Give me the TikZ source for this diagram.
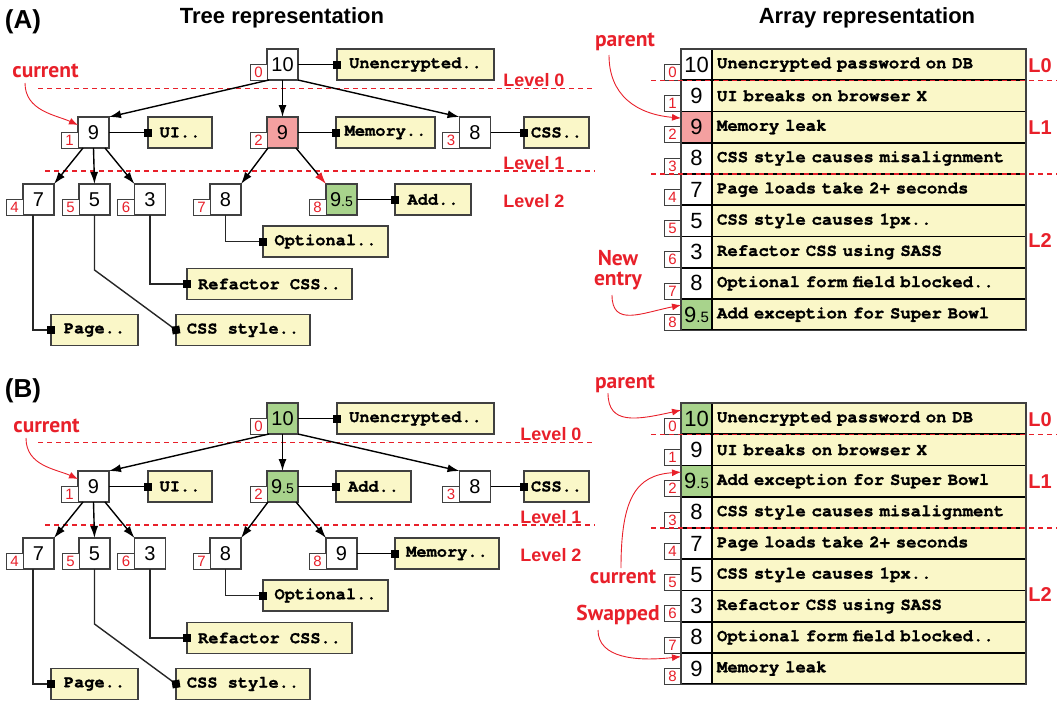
\documentclass[tikz,border=0pt]{standalone}
\usepackage{fontspec}
\setmainfont{Liberation Sans}
\newfontfamily\codefont{TeX Gyre Cursor}[BoldFeatures={FakeBold=1.2}]
\newfontfamily\notefont{PT Sans}
\usetikzlibrary{arrows.meta,calc}

\definecolor{notered}{HTML}{E8202A}
\definecolor{hotfill}{HTML}{F4A0A0}
\definecolor{newfill}{HTML}{A8D38C}
\definecolor{descfill}{HTML}{FAF7C8}
\definecolor{edgegray}{HTML}{404040}
\definecolor{leafgray}{HTML}{262626}

\newcommand\fs[1]{\fontsize{#1}{#1}\selectfont}
\newcommand\ninefive{9{\fs{14}.5}}
\newcommand\ninefivebig{9{\fs{15}.5}}

% tree key box with its index tag: name, position, index, fill, key
\newcommand\treekey[5]{%
  \node[keynode, fill=#4] (#1) at (#2) {#5};
  \node[idxbox] (#1-i) at (#1.south west) {#3};}

% array slot: name, y, index, fill, key, description
\newcommand\slot[6]{%
  \node[cellkey, fill=#4] (#1) at (696.5,#2) {#5};
  \node[celltext] (#1-d) at (712,#2) {#6};
  \node[idxbox] (#1-i) at (#1.south west) {#3};}

\begin{document}
\begin{tikzpicture}[x=1pt,y=-1pt,
  heading/.style={font=\bfseries\fs{22}, inner sep=0pt, anchor=base},
  panel/.style={font=\bfseries\fs{26}, inner sep=0pt, anchor=base},
  keynode/.style={draw=edgegray, line width=1.2pt, fill=white, minimum width=31pt,
    minimum height=31pt, inner sep=0pt, outer sep=0pt, font=\fs{20}},
  idxbox/.style={draw=edgegray, line width=1pt, fill=white, minimum width=17pt,
    minimum height=16pt, inner sep=0pt, outer sep=0pt, text=notered, font=\fs{15},
    anchor=south east},
  descbox/.style={draw=edgegray, line width=1.2pt, fill=descfill, minimum height=31pt,
    inner sep=0pt, outer sep=0pt, font=\codefont\bfseries\fs{17}, anchor=west},
  cellkey/.style={draw=black, line width=1.6pt, fill=white, minimum width=31pt,
    minimum height=31.25pt, inner sep=0pt, outer sep=0pt, font=\fs{22}},
  celltext/.style={draw=black, line width=1.6pt, fill=descfill, text width=304pt,
    align=left, inner xsep=5pt, inner ysep=0pt, minimum height=31.25pt, outer sep=0pt,
    font=\codefont\bfseries\fs{17.3}, anchor=west},
  treeedge/.style={line width=1.4pt, -{Latex[length=12pt,width=8pt]}},
  hotedge/.style={line width=1.4pt, -{Latex[length=12pt,width=8pt,color=notered]}},
  link/.style={line width=1.6pt, -{Square[length=8pt,width=8pt]}, shorten >=-4pt},
  leaflink/.style={line width=1.4pt, draw=leafgray,
    -{Square[length=8pt,width=8pt,color=black]}, shorten >=-4pt},
  diamondlink/.style={line width=1.4pt, draw=leafgray,
    -{Diamond[length=11pt,width=11pt,color=black]}, shorten >=-5.5pt},
  levelline/.style={notered, line width=1.1pt, dash pattern=on 5pt off 4pt},
  levellabel/.style={text=notered, font=\bfseries\fs{18}, inner sep=0pt, anchor=base},
  rowlabel/.style={text=notered, font=\bfseries\fs{20}, inner sep=0pt, anchor=base},
  callout/.style={text=notered, font=\notefont\bfseries\fs{21.5}, inner sep=0pt},
  calloutarrow/.style={notered, line width=0.9pt, -{Latex[length=9pt,width=7pt]}}
]
\useasboundingbox (0,0) rectangle (1063,702);

% ---------- headings ----------
\node[heading] (headTree) at (282,23) {Tree representation};
\node[heading] (headArray) at (867,23) {Array representation};
\node[panel] (panelA) at (23,28) {(A)};
\node[panel] (panelB) at (23,397) {(B)};

% ================= panel A : tree =================
\draw[levelline] (38,88.7) -- (595,88.7);
\draw[levelline] (45,171) -- (595,171);
\node[levellabel] (lvA0) at (534,86) {Level 0};
\node[levellabel] (lvA1) at (534,169) {Level 1};
\node[levellabel] (lvA2) at (534,207) {Level 2};

\treekey{a0}{282.5,64.5}{0}{white}{10}
\treekey{a1}{93.5,132.5}{1}{white}{9}
\treekey{a2}{282.5,132.5}{2}{hotfill}{9}
\treekey{a3}{475,132.5}{3}{white}{8}
\treekey{a4}{38.5,199.5}{4}{white}{7}
\treekey{a5}{94.5,199.5}{5}{white}{5}
\treekey{a6}{150,199.5}{6}{white}{3}
\treekey{a7}{225.5,199.5}{7}{white}{8}
\treekey{a8}{341.5,199.5}{8}{newfill}{\ninefive}

\node[descbox, minimum width=157pt] (ad0) at (337,64.5) {Unencrypted..};
\node[descbox, minimum width=64pt] (ad1) at (148,132.5) {UI..};
\node[descbox, minimum width=99pt] (ad2) at (336,132.5) {Memory..};
\node[descbox, minimum width=65pt] (ad3) at (524,132.5) {CSS..};
\node[descbox, minimum width=76pt] (ad8) at (395,199.5) {Add..};
\node[descbox, minimum width=125pt] (ad7) at (263,241.5) {Optional..};
\node[descbox, minimum width=165pt] (ad6) at (187,284) {Refactor CSS..};
\node[descbox, minimum width=87pt] (ad4) at (51,330) {Page..};
\node[descbox, minimum width=134pt] (ad5) at (176,330) {CSS style..};

\draw[treeedge] ([xshift=2pt]a0.south west) -- (a1.north east);
\draw[treeedge] (a0.south) -- (a2.north);
\draw[treeedge] (a0.south east) -- (a3.north west);
\draw[treeedge] ([xshift=5pt]a1.south west) -- (a4.north east);
\draw[treeedge] (a1.south) -- (a5.north);
\draw[treeedge] ([xshift=-4pt]a1.south east) -- (a6.north west);
\draw[treeedge] ([xshift=1pt]a2.south west) -- (a7.north east);
\draw[hotedge] ([xshift=-2pt]a2.south east) -- (a8.north west);

\draw[link] (a0.east) -- (ad0.west);
\draw[link] (a1.east) -- (ad1.west);
\draw[link] (a2.east) -- (ad2.west);
\draw[link] (a3.east) -- (ad3.west);
\draw[link] (a8.east) -- (ad8.west);
\draw[leaflink] (a7.south) |- (ad7.west);
\draw[leaflink] (a6.south) |- (ad6.west);
\draw[leaflink] ([xshift=-5.5pt]a4.south) |- (ad4.west);
\draw[diamondlink] (a5.south) -- ++(0,55) -- (ad5.west);

\node[callout, anchor=base] (curA) at (45.5,77) {current};
\draw[calloutarrow] ($(curA.base)+(-20.5,6)$) .. controls +(0,28) and +(-22,-10) .. ([yshift=7.5pt]a1.west);

% ================= panel A : array =================
\slot{ra0}{64.625}{0}{white}{10}{Unencrypted password on DB}
\slot{ra1}{95.875}{1}{white}{9}{UI breaks on browser X}
\slot{ra2}{127.125}{2}{hotfill}{9}{Memory leak}
\slot{ra3}{158.375}{3}{white}{8}{CSS style causes misalignment}
\slot{ra4}{189.625}{4}{white}{7}{Page loads take 2+ seconds}
\slot{ra5}{220.875}{5}{white}{5}{CSS style causes 1px..}
\slot{ra6}{252.125}{6}{white}{3}{Refactor CSS using SASS}
\slot{ra7}{283.375}{7}{white}{8}{Optional form field blocked..}
\slot{ra8}{314.625}{8}{newfill}{\ninefivebig}{Add exception for Super Bowl}
\draw[edgegray, line width=1.2pt] (ra0.north west) rectangle (ra8-d.south east);

\draw[levelline] (651,80.25) -- (1057,80.25);
\draw[levelline] (651,174) -- (1057,174);
\node[rowlabel] (lA0) at (1040,72) {L0};
\node[rowlabel] (lA1) at (1040,134) {L1};
\node[rowlabel] (lA2) at (1040,247) {L2};

\node[callout, anchor=base] (parA) at (625,46) {parent};
\draw[calloutarrow] ($(parA.base)+(-16,9)$) .. controls +(0,40) and +(-45,-4) .. ([yshift=9pt]ra2.west);
\node[callout, align=center] (newA) at (618,270) {New\\[-2pt]entry};
\draw[calloutarrow] ($(newA.center)+(-6,25)$) .. controls +(0,32) and +(-40,8) .. ([yshift=9.5pt]ra8.west);

% ================= panel B : tree =================
\draw[levelline] (38,442.7) -- (595,442.7);
\draw[levelline] (45,525) -- (595,525);
\node[levellabel] (lvB0) at (551,440) {Level 0};
\node[levellabel] (lvB1) at (551,523) {Level 1};
\node[levellabel] (lvB2) at (551,561) {Level 2};

\treekey{b0}{282.5,418.5}{0}{newfill}{10}
\treekey{b1}{93.5,486.5}{1}{white}{9}
\treekey{b2}{282.5,486.5}{2}{newfill}{\ninefive}
\treekey{b3}{475,486.5}{3}{white}{8}
\treekey{b4}{38.5,553.5}{4}{white}{7}
\treekey{b5}{94.5,553.5}{5}{white}{5}
\treekey{b6}{150,553.5}{6}{white}{3}
\treekey{b7}{225.5,553.5}{7}{white}{8}
\treekey{b8}{341.5,553.5}{8}{white}{9}

\node[descbox, minimum width=157pt] (bd0) at (337,418.5) {Unencrypted..};
\node[descbox, minimum width=64pt] (bd1) at (148,486.5) {UI..};
\node[descbox, minimum width=75pt] (bd2) at (336,486.5) {Add..};
\node[descbox, minimum width=65pt] (bd3) at (524,486.5) {CSS..};
\node[descbox, minimum width=104pt] (bd8) at (395,553.5) {Memory..};
\node[descbox, minimum width=125pt] (bd7) at (263,595.5) {Optional..};
\node[descbox, minimum width=165pt] (bd6) at (187,638) {Refactor CSS..};
\node[descbox, minimum width=87pt] (bd4) at (51,684) {Page..};
\node[descbox, minimum width=134pt] (bd5) at (176,684) {CSS style..};

\draw[treeedge] ([xshift=2pt]b0.south west) -- (b1.north east);
\draw[treeedge] (b0.south) -- (b2.north);
\draw[treeedge] (b0.south east) -- (b3.north west);
\draw[treeedge] ([xshift=5pt]b1.south west) -- (b4.north east);
\draw[treeedge] (b1.south) -- (b5.north);
\draw[treeedge] ([xshift=-4pt]b1.south east) -- (b6.north west);
\draw[treeedge] ([xshift=1pt]b2.south west) -- (b7.north east);
\draw[treeedge] ([xshift=-2pt]b2.south east) -- (b8.north west);

\draw[link] (b0.east) -- (bd0.west);
\draw[link] (b1.east) -- (bd1.west);
\draw[link] (b2.east) -- (bd2.west);
\draw[link] (b3.east) -- (bd3.west);
\draw[link] (b8.east) -- (bd8.west);
\draw[leaflink] (b7.south) |- (bd7.west);
\draw[leaflink] (b6.south) |- (bd6.west);
\draw[leaflink] ([xshift=-5.5pt]b4.south) |- (bd4.west);
\draw[diamondlink] (b5.south) -- ++(0,55) -- (bd5.west);

\node[callout, anchor=base] (curB) at (46.5,432) {current};
\draw[calloutarrow] ($(curB.base)+(-20.5,6)$) .. controls +(0,28) and +(-22,-10) .. ([yshift=7.5pt]b1.west);

% ================= panel B : array =================
\slot{rb0}{418.625}{0}{newfill}{10}{Unencrypted password on DB}
\slot{rb1}{449.875}{1}{white}{9}{UI breaks on browser X}
\slot{rb2}{481.125}{2}{newfill}{\ninefivebig}{Add exception for Super Bowl}
\slot{rb3}{512.375}{3}{white}{8}{CSS style causes misalignment}
\slot{rb4}{543.625}{4}{white}{7}{Page loads take 2+ seconds}
\slot{rb5}{574.875}{5}{white}{5}{CSS style causes 1px..}
\slot{rb6}{606.125}{6}{white}{3}{Refactor CSS using SASS}
\slot{rb7}{637.375}{7}{white}{8}{Optional form field blocked..}
\slot{rb8}{668.625}{8}{white}{9}{Memory leak}
\draw[edgegray, line width=1.2pt] (rb0.north west) rectangle (rb8-d.south east);

\draw[levelline] (651,434.25) -- (1057,434.25);
\draw[levelline] (651,528) -- (1057,528);
\node[rowlabel] (lB0) at (1040,426) {L0};
\node[rowlabel] (lB1) at (1040,488) {L1};
\node[rowlabel] (lB2) at (1040,601) {L2};

\node[callout, anchor=base] (parB) at (625,388) {parent};
\draw[calloutarrow] ($(parB.base)+(-17,5)$) .. controls +(0,32) and +(-45,10) .. ([yshift=8.5pt]rb0.west);
\node[callout, anchor=base] (curC) at (623,583) {current};
\draw[calloutarrow] ($(curC.base)+(-2,-15)$) .. controls +(0,-70) and +(-45,3) .. ([yshift=9pt]rb2.west);
\node[callout, anchor=base] (swB) at (618,620) {Swapped};
\draw[calloutarrow] ($(swB.base)+(-20,10)$) .. controls +(0,28) and +(-45,5) .. ([yshift=12pt]rb8.west);

\end{tikzpicture}
\end{document}
